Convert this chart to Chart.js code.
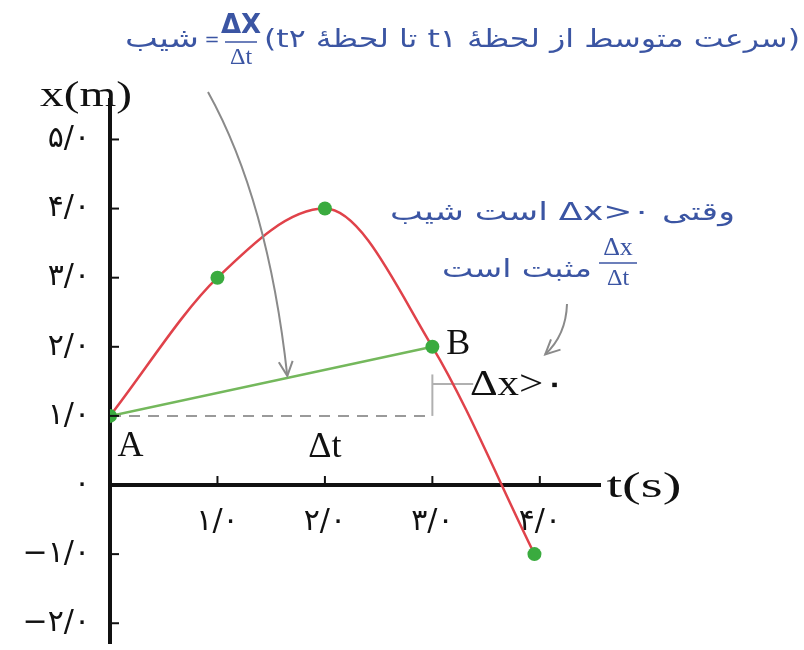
<!DOCTYPE html>
<html><head><meta charset="utf-8">
<script src="https://cdn.jsdelivr.net/npm/chart.js@4.4.1/dist/chart.umd.min.js"></script>
<style>html,body{margin:0;padding:0;background:#fff}#wrap{width:804px;height:650px}</style>
</head><body><div id="wrap"><canvas id="c" width="804" height="650"></canvas></div>
<script>
// ---- data ----
const tValues = [0, 1, 2, 3, 3.95];
const xValues = [1, 3, 4, 2, -1];
const chordT = [0, 3];
const chordX = [1, 2];
const dashT = [0, 3];
const dashX = [1, 1];
const riseT = [3, 3];
const riseX = [1, 1.6];
const leaderT = [3, 3.38];
const leaderX = [1.46, 1.46];
const yTickValues = [-2, -1, 0, 1, 2, 3, 4, 5];
const yTickLabels = ['−۲/۰', '−۱/۰', '۰', '۱/۰', '۲/۰', '۳/۰', '۴/۰', '۵/۰'];
const xTickValues = [1, 2, 3, 4];
const xTickLabels = ['۱/۰', '۲/۰', '۳/۰', '۴/۰'];

const pts = (a, b) => a.map((v, i) => ({x: v, y: b[i]}));
const BLUE = '#3b55a3';
const GRAY = '#8a8a8a';
const SERIF = '"Liberation Serif","DejaVu Serif",serif';
const FA = '"DejaVu Sans",sans-serif';

function drawFit(ctx, text, xRight, yMid, width, font, color, rtl) {
  ctx.save();
  ctx.font = font; ctx.fillStyle = color;
  ctx.direction = rtl ? 'rtl' : 'ltr';
  ctx.textAlign = rtl ? 'right' : 'left'; ctx.textBaseline = 'middle';
  const w = ctx.measureText(text).width;
  const s = width / w;
  ctx.translate(xRight - width, yMid);
  ctx.scale(s, 1);
  ctx.fillText(text, rtl ? w : 0, 0);
  ctx.restore();
}
function txt(ctx, text, x, y, font, color, align, dir) {
  ctx.save();
  ctx.font = font; ctx.fillStyle = color;
  ctx.direction = dir || 'ltr';
  ctx.textAlign = align || 'left'; ctx.textBaseline = 'middle';
  ctx.fillText(text, x, y);
  ctx.restore();
}
function frac(ctx, cx, yNum, yBar, yDen, num, den, fNum, fDen, color, half) {
  txt(ctx, num, cx, yNum, fNum, color, 'center');
  txt(ctx, den, cx, yDen, fDen, color, 'center');
  ctx.save(); ctx.strokeStyle = color; ctx.lineWidth = 1.5;
  ctx.beginPath(); ctx.moveTo(cx - half, yBar); ctx.lineTo(cx + half, yBar); ctx.stroke();
  ctx.restore();
}
function arrow(ctx, p0, c, p1, color) {
  ctx.save();
  ctx.strokeStyle = color; ctx.lineWidth = 2;
  ctx.beginPath(); ctx.moveTo(p0[0], p0[1]); ctx.quadraticCurveTo(c[0], c[1], p1[0], p1[1]); ctx.stroke();
  const ang = Math.atan2(p1[1] - c[1], p1[0] - c[0]);
  const L = 16, sp = 0.45;
  ctx.beginPath();
  ctx.moveTo(p1[0] - L * Math.cos(ang - sp), p1[1] - L * Math.sin(ang - sp));
  ctx.lineTo(p1[0], p1[1]);
  ctx.lineTo(p1[0] - L * Math.cos(ang + sp), p1[1] - L * Math.sin(ang + sp));
  ctx.stroke();
  ctx.restore();
}

const decor = {
  id: 'decor',
  afterDraw(chart) {
    const ctx = chart.ctx;
    const xs = chart.scales.x, ys = chart.scales.y;
    const P = (t, v) => [xs.getPixelForValue(t), ys.getPixelForValue(v)];
    // inward tick marks
    ctx.save(); ctx.strokeStyle = '#111'; ctx.lineWidth = 2;
    const x0 = xs.getPixelForValue(0), y0 = ys.getPixelForValue(0);
    yTickValues.forEach(v => { if (v === 0) return; const py = ys.getPixelForValue(v);
      ctx.beginPath(); ctx.moveTo(x0, py); ctx.lineTo(x0 + 9, py); ctx.stroke(); });
    xTickValues.forEach(v => { const px = xs.getPixelForValue(v);
      ctx.beginPath(); ctx.moveTo(px, y0); ctx.lineTo(px, y0 - 9); ctx.stroke(); });
    ctx.restore();

    // axis titles and point labels
    drawFit(ctx, 'x(m)', 132, 97, 92, '36px ' + SERIF, '#111', false);
    const ts = P(4.62, 0); drawFit(ctx, 't(s)', ts[0] + 75, ts[1] + 3, 75, '36px ' + SERIF, '#111', false);
    const a = P(0.07, 0.55); txt(ctx, 'A', a[0], a[1], '36px ' + SERIF, '#111', 'left');
    const b = P(3.13, 2.03); txt(ctx, 'B', b[0], b[1], '36px ' + SERIF, '#111', 'left');
    const dt = P(2.0, 0.54); txt(ctx, 'Δt', dt[0], dt[1], '36px ' + SERIF, '#111', 'center');
    const dxp = P(3.35, 1.44); drawFit(ctx, 'Δx>۰', dxp[0] + 96, dxp[1], 96, '36px ' + SERIF, '#111', false);

    // top formula line
    drawFit(ctx, 'شیب', 199, 40, 74, '26px ' + FA, BLUE, true);
    txt(ctx, '=', 212, 40, '18px ' + FA, BLUE, 'center');
    frac(ctx, 241, 26, 42, 58, 'ΔX', 'Δt', 'bold 26px "DejaVu Sans",sans-serif', '24px ' + SERIF, BLUE, 16);
    drawFit(ctx, '(سرعت متوسط از لحظهٔ t۱ تا لحظهٔ t۲)', 800, 40, 536, '25px ' + FA, BLUE, true);

    // right note
    drawFit(ctx, 'وقتی Δx>۰ است شیب', 735, 213, 345, '25px ' + FA, BLUE, true);
    drawFit(ctx, 'مثبت است', 592, 270, 150, '25px ' + FA, BLUE, true);
    frac(ctx, 618, 248, 263, 279, 'Δx', 'Δt', '26px ' + SERIF, '24px ' + SERIF, BLUE, 19);

    // arrows
    const e1 = P(1.65, 1 + 1.65 / 3);
    arrow(ctx, [208, 92], [268, 200], [e1[0], e1[1] - 2], GRAY);
    const e2 = P(4.05, 1.89);
    arrow(ctx, [567, 304], [566, 335], e2, GRAY);
  }
};

new Chart(document.getElementById('c'), {
  type: 'line',
  data: {
    datasets: [
      { data: pts(tValues, xValues), showLine: false, pointRadius: 7, pointHoverRadius: 7,
        pointBackgroundColor: '#3aab3f', pointBorderColor: '#3aab3f', borderWidth: 0 },
      { data: pts(chordT, chordX), borderColor: '#74b85c', borderWidth: 2.5, pointRadius: 0 },
      { data: pts(tValues, xValues), borderColor: '#e0424a', borderWidth: 2.5, pointRadius: 0,
        cubicInterpolationMode: 'monotone' },
      { data: pts(dashT, dashX), borderColor: '#9a9a9a', borderWidth: 2, borderDash: [11, 8], pointRadius: 0 },
      { data: pts(riseT, riseX), borderColor: '#b0b0b0', borderWidth: 2, pointRadius: 0 },
      { data: pts(leaderT, leaderX), borderColor: '#b0b0b0', borderWidth: 2, pointRadius: 0 }
    ]
  },
  options: {
    responsive: false, animation: false, devicePixelRatio: 1,
    layout: { padding: { left: 0, top: 100, right: 204, bottom: 0 } },
    plugins: { legend: { display: false }, tooltip: { enabled: false } },
    events: [],
    scales: {
      x: {
        type: 'linear', min: 0, max: 4.56, position: { y: 0 },
        grid: { display: false, drawTicks: false },
        border: { display: true, color: '#111', width: 4 },
        afterBuildTicks: s => { s.ticks = xTickValues.map(v => ({ value: v })); },
        afterFit: s => { s.paddingLeft = 0; s.paddingRight = 0; },
        ticks: { padding: 19, color: '#111', font: { family: 'DejaVu Sans', size: 30 },
          maxRotation: 0, autoSkip: false,
          callback: v => xTickLabels[xTickValues.indexOf(v)] }
      },
      y: {
        type: 'linear', min: -2.286, max: 5.571, position: 'left',
        grid: { display: false, drawTicks: false },
        border: { display: true, color: '#111', width: 4 },
        afterBuildTicks: s => { s.ticks = yTickValues.map(v => ({ value: v })); },
        afterFit: s => { s.width = 110; s.paddingTop = 0; s.paddingBottom = 0; },
        ticks: { padding: 20, color: '#111', font: { family: 'DejaVu Sans', size: 30 },
          autoSkip: false,
          callback: v => yTickLabels[yTickValues.indexOf(v)] }
      }
    }
  },
  plugins: [decor]
});
</script></body></html>
